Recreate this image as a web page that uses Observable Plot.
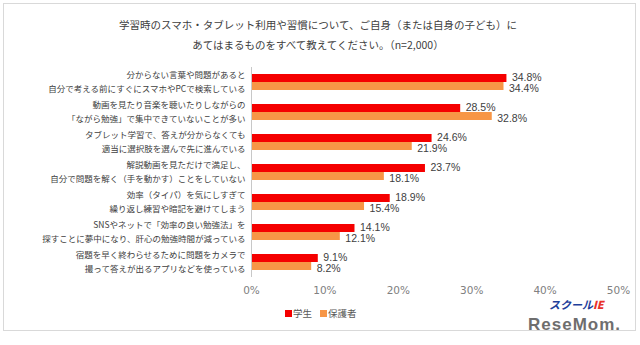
<!DOCTYPE html>
<html>
<head>
<meta charset="utf-8">
<script src="https://cdn.jsdelivr.net/npm/d3@7"></script>
<script src="https://cdn.jsdelivr.net/npm/@observablehq/plot@0.6"></script>
<style>
  html, body { margin: 0; padding: 0; background: #fff; }
  #wrap { position: relative; width: 640px; height: 345px; overflow: hidden; font-family: "Noto Sans CJK JP", sans-serif; }
  #frame { position: absolute; left: 3px; top: 3px; width: 631px; height: 326px; border: 1px solid #d9d9d9; }
  #title { position: absolute; left: 0; top: 15px; width: 636px; text-align: center; font-size: 10.5px; line-height: 20px; color: #404040; }
  #chart { position: absolute; left: 0; top: 0; }
  #legend { position: absolute; left: 285px; top: 306px; font-size: 9.5px; color: #595959; white-space: nowrap; }
  #legend span.sw { display: inline-block; width: 7px; height: 7px; margin-right: 1px; vertical-align: 0px; }
  #logo1 { position: absolute; left: 549px; top: 298px; font-size: 11px; line-height: 12px; font-weight: bold; font-style: italic; color: #1f3f9a; }
  #logo1 b { color: #e8322a; }
  #logo2 { position: absolute; left: 528px; top: 318px; font-family: "Liberation Sans", sans-serif; font-size: 17px; line-height: 14px; font-weight: bold; color: #6e6e6e; letter-spacing: 1px; }
</style>
</head>
<body>
<div id="wrap">
  <div id="frame"></div>
  <div id="title"></div>
  <div id="chart"></div>
  <div id="legend"></div>
  <div id="logo1">スクール<b>IE</b></div>
  <div id="logo2">ReseMom.</div>
</div>
<script>
const titleLines = [
  "学習時のスマホ・タブレット利用や習慣について、ご自身（または自身の子ども）に",
  "あてはまるものをすべて教えてください。（n=2,000）"
];
const categories = [
  "分からない言葉や問題があると\n自分で考える前にすぐにスマホやPCで検索している",
  "動画を見たり音楽を聴いたりしながらの\n「ながら勉強」で集中できていないことが多い",
  "タブレット学習で、答えが分からなくても\n適当に選択肢を選んで先に進んでいる",
  "解説動画を見ただけで満足し、\n自分で問題を解く（手を動かす）ことをしていない",
  "効率（タイパ）を気にしすぎて\n繰り返し練習や暗記を避けてしまう",
  "SNSやネットで「効率の良い勉強法」を\n探すことに夢中になり、肝心の勉強時間が減っている",
  "宿題を早く終わらせるために問題をカメラで\n撮って答えが出るアプリなどを使っている"
];
const seriesNames = ["学生", "保護者"];
const students = [34.8, 28.5, 24.6, 23.7, 18.9, 14.1, 9.1];
const parents = [34.4, 32.8, 21.9, 18.1, 15.4, 12.1, 8.2];
const xTicks = [0, 10, 20, 30, 40, 50];
const colors = ["#F50000", "#F79646"];

document.getElementById("title").innerHTML = titleLines.join("<br>");

const data = categories.flatMap((c, i) => [
  {cat: c, series: seriesNames[0], value: students[i]},
  {cat: c, series: seriesNames[1], value: parents[i]}
]);
const studentData = data.filter(d => d.series === seriesNames[0]);
const parentData = data.filter(d => d.series === seriesNames[1]);

const labelOpts = {x: "value", y: "series", fy: "cat", text: d => d.value.toFixed(1) + "%", textAnchor: "start", dx: 5, fontSize: 10.5, fill: "#404040", fontFamily: "Liberation Sans"};

const chart = Plot.plot({
  width: 640,
  height: 300,
  marginLeft: 251,
  marginRight: 22,
  marginTop: 67,
  marginBottom: 23,
  style: {background: "transparent", fontFamily: "'Noto Sans CJK JP', sans-serif"},
  x: {domain: [0, 50]},
  y: {domain: seriesNames, paddingInner: 0, paddingOuter: 0.875, axis: null},
  fy: {domain: categories, padding: 0},
  color: {domain: seriesNames, range: colors},
  marks: [
    Plot.axisX({ticks: xTicks, tickFormat: d => d + "%", tickSize: 0, tickPadding: 9, fontSize: 10.5, fill: "#808080", fontFamily: "DejaVu Sans", label: null}),
    Plot.axisFy({anchor: "left", tickSize: 0, tickPadding: 6, fontSize: 8.5, lineHeight: 1.7, fill: "#404040", label: null, dy: -2}),
    Plot.barX(data, {x: "value", y: "series", fy: "cat", fill: "series"}),
    Plot.text(studentData, {...labelOpts, dy: -1}),
    Plot.text(parentData, {...labelOpts, dy: 2}),
    Plot.ruleX([0], {stroke: "#c8c8c8"})
  ]
});
document.getElementById("chart").appendChild(chart);

const legend = document.getElementById("legend");
seriesNames.forEach((s, i) => {
  const item = document.createElement("span");
  item.style.marginRight = "8px";
  item.innerHTML = `<span class="sw" style="background:${colors[i]}"></span>${s}`;
  legend.appendChild(item);
});
</script>
</body>
</html>
